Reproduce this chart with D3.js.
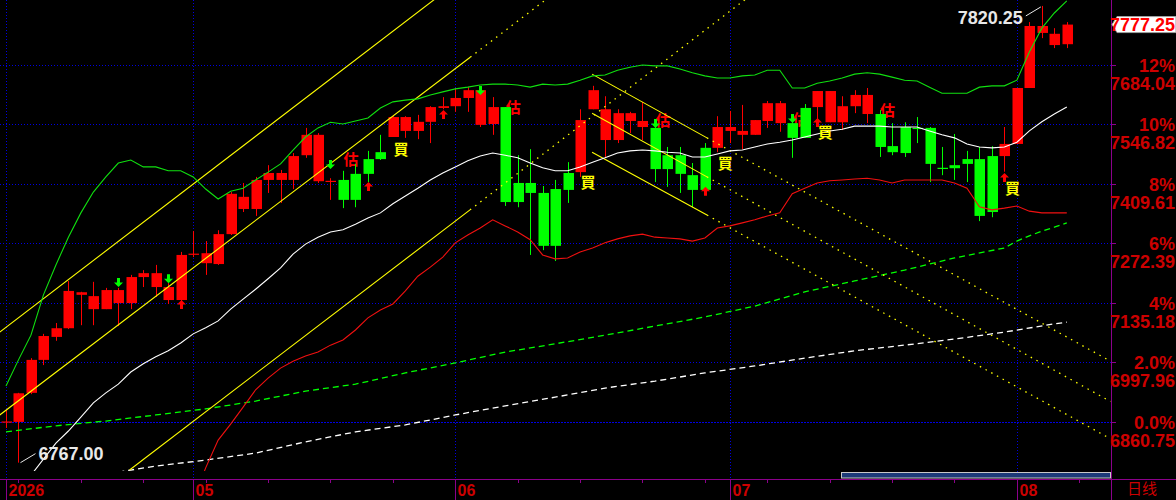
<!DOCTYPE html>
<html><head><meta charset="utf-8">
<script src="https://cdn.jsdelivr.net/npm/d3@7"></script>
<style>
html,body{margin:0;padding:0;background:#000;overflow:hidden}
svg{display:block}
</style></head><body>
<svg id="c" width="1176" height="500"></svg>
<script>
// ---------------- DATA ----------------
const base = 6860.75;
const pctTicks = [0, 2, 4, 6, 8, 10, 12];
const pctLabels = ["0.0%", "2.0%", "4%", "6%", "8%", "10%", "12%"];
const priceLabels = ["6860.75", "6997.96", "7135.18", "7272.39", "7409.61", "7546.82", "7684.04"];

const monthStarts = [0, 15, 36, 58, 81];
const monthLabels = ["2026", "05", "06", "07", "08"];
const weekTicks = [1, 6, 11, 16, 21, 26, 31, 36, 41, 46, 51, 56, 61, 66, 71, 76, 81, 86];
const periodLabel = "日线";

const open = [6861,6861,6928,7004,7057,7077,7154,7121,7121,7135,
7135,7195,7172,7142,7142,7248,7227,7225,7294,7352,
7352,7419,7419,7419,7476,7416,7416,7419,7433,7467,
7483,7518,7532,7532,7553,7585,7589,7608,7546,7548,
7587,7412,7412,7389,7398,7435,7437,7582,7511,7511,
7555,7541,7539,7476,7476,7430,7493,7493,7532,7523,
7523,7555,7550,7550,7585,7587,7552,7552,7589,7571,
7571,7497,7541,7539,7539,7447,7453,7467,7467,7474,
7474,7502,7631,7758,7730,7732];
const high = [6888,6928,7008,7064,7089,7186,7161,7184,7170,7170,
7200,7211,7223,7181,7253,7301,7278,7303,7391,7412,
7426,7453,7442,7481,7539,7527,7423,7440,7456,7486,
7523,7566,7566,7569,7589,7610,7631,7633,7631,7610,
7587,7476,7490,7405,7419,7460,7582,7636,7612,7582,
7576,7599,7555,7495,7495,7458,7504,7566,7578,7592,
7557,7601,7601,7569,7594,7624,7624,7612,7626,7631,
7580,7550,7552,7564,7541,7495,7525,7486,7495,7497,
7541,7631,7783,7820.25,7769,7783];
const low = [6847,6767,6925,6992,7048,7075,7084,7084,7121,7082,
7121,7172,7149,7133,7137,7241,7200,7223,7292,7345,
7336,7389,7366,7398,7470,7412,7373,7354,7356,7414,
7465,7518,7516,7513,7504,7582,7576,7576,7541,7523,
7359,7356,7246,7257,7232,7366,7426,7582,7472,7504,
7527,7511,7414,7403,7389,7356,7396,7483,7504,7490,
7523,7539,7530,7470,7516,7541,7552,7534,7573,7550,
7472,7476,7472,7504,7414,7430,7419,7414,7324,7333,
7438,7502,7631,7746,7723,7723];
const close = [6862,6927,7004,7059,7077,7163,7160,7151,7165,7165,
7195,7204,7204,7172,7246,7249,7250,7294,7387,7380,
7419,7435,7435,7474,7523,7523,7417,7373,7373,7433,
7467,7564,7564,7553,7587,7589,7608,7626,7626,7587,
7368,7368,7389,7267,7267,7396,7557,7626,7582,7573,
7573,7555,7444,7444,7433,7396,7396,7541,7541,7532,
7557,7596,7596,7516,7516,7624,7624,7589,7615,7615,
7495,7483,7481,7538,7456,7446,7446,7456,7336,7345,
7502,7631,7774,7774,7756,7777.25];

// Bollinger-style bands (read per bar)
const bandUpper = [6944,7004,7061,7154,7223,7287,7343,7391,7426,7458,
7465,7449,7449,7440,7440,7426,7398,7375,7393,7400,
7419,7437,7456,7488,7518,7539,7552,7548,7555,7562,
7585,7599,7603,7606,7615,7622,7629,7633,7638,7640,
7640,7638,7633,7640,7638,7640,7649,7659,7661,7672,
7679,7684,7682,7682,7675,7666,7659,7654,7654,7659,
7661,7672,7672,7631,7631,7642,7647,7654,7663,7666,
7663,7656,7649,7647,7633,7619,7619,7619,7633,7636,
7636,7649,7714,7769,7804,7832];
const bandMid = [null,null,6738,6775,6812,6840,6872,6905,6928,6948,
6976,6995,7011,7025,7043,7064,7078,7094,7121,7144,
7167,7191,7216,7248,7271,7287,7299,7304,7317,7331,
7343,7364,7382,7400,7419,7435,7449,7463,7474,7481,
7476,7470,7458,7447,7440,7440,7449,7460,7470,7481,
7486,7488,7486,7483,7481,7472,7472,7479,7486,7488,
7495,7502,7506,7511,7518,7525,7532,7536,7543,7543,
7543,7541,7541,7541,7532,7523,7516,7502,7495,7493,
7495,7506,7532,7553,7571,7587];
const bandLower = [null,null,null,null,null,null,null,null,null,null,
null,null,null,null,null,6681,6755,6819,6856,6895,
6935,6962,6985,7001,7013,7022,7038,7050,7073,7101,
7119,7133,7163,7197,7218,7241,7274,7292,7308,7327,
7313,7299,7281,7246,7237,7239,7253,7262,7274,7283,
7290,7294,7287,7285,7283,7278,7285,7308,7313,7320,
7327,7336,7343,7387,7400,7412,7417,7419,7421,7423,
7419,7412,7419,7419,7419,7419,7412,7400,7357,7350,
7354,7359,7347,7343,7343,7343];

// long moving averages (bar index, value)
const maGreen = [[0,6838],[4,6852],[8,6863],[12,6877],[16,6891],[20,6909],[24,6932],[28,6948],
[32,6974],[36,6997],[40,7022],[44,7041],[48,7061],[52,7082],[56,7103],[60,7128],[64,7161],
[68,7186],[72,7211],[76,7239],[80,7262],[81,7278],[82,7290],[83,7301],[84,7310],[85,7320]];
const maWhite = [[9,6745],[10,6750],[12,6759],[16,6773],[20,6789],[24,6815],[28,6838],[32,6854],
[36,6877],[40,6898],[44,6918],[48,6939],[52,6955],[56,6974],[60,6990],[64,7008],[68,7025],
[72,7038],[76,7052],[80,7068],[84,7087],[85,7091]];

// drawn trend lines (bar index, price)
const trendSolid = [
  [[-0.5,7068],[35,7850]],
  [[-0.5,6877],[37.2,7702]],
  [[9.9,6750],[37.18,7350]],
  [[46.96,7663],[56.17,7516]],
  [[46.96,7573],[56.17,7426]],
  [[46.96,7483],[56.17,7338]]
];
const trendDotted = [
  [[37.2,7702],[44,7851]],
  [[37.18,7350],[60,7852]],
  [[56.17,7516],[88.5,7001]],
  [[56.17,7426],[88.5,6908]],
  [[56.17,7338],[88.5,6822]]
];

// signals
const upArrows = [[14,7142],[29,7414],[35,7580],[56,7403],[65,7562],[80,7435]];
const downArrows = [[9,7172],[13,7181],[26,7444],[38,7615],[52,7539],[63,7550]];
const buyLabels = [[31,7488],[46,7412],[57,7456],[65,7527],[80,7398]];
const estLabels = [[27,7465],[40,7585],[52,7555],[63,7557],[70,7578]];

// ---------------- DRAW ----------------
const W = 1176, H = 500;
const plotRight = 1111, axisY = 479;
const RED = "#ff0000", GREEN = "#00ff00", AXT = "#cc0000", BLUE = "#0000e0", PURPLE = "#8b008b";
const NUM = "'Liberation Sans', Arial, sans-serif";
const CJK = "'Noto Sans CJK TC', 'Noto Sans CJK SC', sans-serif";

const svg = d3.select("#c");
svg.append("rect").attr("width", W).attr("height", H).attr("fill", "#000");

const x = d3.scaleLinear().domain([0, 85]).range([6, 1066.8]);
const y = d3.scaleLinear().domain([base, 7684.04]).range([422, 65]);
const px = v => Math.round(x(v)) + 0.5;

svg.append("defs").append("clipPath").attr("id", "plot")
  .append("rect").attr("x", 0).attr("y", 0).attr("width", plotRight).attr("height", 471);

// grid
const grid = svg.append("g");
pctTicks.forEach(p => {
  const yy = Math.round(y(base * (1 + p / 100))) + 0.5;
  grid.append("line").attr("x1", 0).attr("x2", plotRight + 4).attr("y1", yy).attr("y2", yy)
    .attr("stroke", BLUE).attr("stroke-width", 1)
    .attr("stroke-dasharray", p === 0 ? "2,1" : "1,2");
});
monthStarts.forEach(i => {
  grid.append("line").attr("x1", px(i)).attr("x2", px(i)).attr("y1", 0).attr("y2", axisY)
    .attr("stroke", BLUE).attr("stroke-width", 1).attr("stroke-dasharray", "1,2");
});

// candles
const bars = d3.range(open.length).map(i => ({i, o: open[i], h: high[i], l: low[i], c: close[i]}));

// estimate labels drawn beneath candles
const est = svg.append("g");
estLabels.forEach(([i, p]) => {
  est.append("text").attr("x", x(i) + 0.5).attr("y", y(p)).attr("dy", "0.36em")
    .attr("fill", RED).attr("font-family", CJK).attr("font-size", 15).attr("font-weight", 700)
    .text("估");
});

const cg = svg.append("g");
bars.forEach(d => {
  const col = d.c >= d.o ? RED : GREEN;
  const cx = Math.round(x(d.i));
  cg.append("line").attr("x1", cx + 0.5).attr("x2", cx + 0.5)
    .attr("y1", y(d.h)).attr("y2", y(d.l)).attr("stroke", col).attr("stroke-width", 1);
  const top = y(Math.max(d.o, d.c)), bot = y(Math.min(d.o, d.c));
  cg.append("rect").attr("x", cx - 4.5).attr("width", 10.5)
    .attr("y", top).attr("height", Math.max(1.2, bot - top)).attr("fill", col);
});

// lines
const lineGen = d3.line().defined(d => d[1] != null).x(d => x(d[0])).y(d => y(d[1]));
const lg = svg.append("g").attr("clip-path", "url(#plot)");
const toPairs = arr => arr.map((v, i) => [i, v]);
lg.append("path").attr("d", lineGen(maWhite)).attr("fill", "none").attr("stroke", "#ffffff")
  .attr("stroke-width", 1.3).attr("stroke-dasharray", "6,4");
lg.append("path").attr("d", lineGen(maGreen)).attr("fill", "none").attr("stroke", GREEN)
  .attr("stroke-width", 1.3).attr("stroke-dasharray", "6,4");
trendSolid.forEach(seg => lg.append("path").attr("d", lineGen(seg)).attr("fill", "none")
  .attr("stroke", "#ffff00").attr("stroke-width", 1.1));
trendDotted.forEach(seg => lg.append("path").attr("d", lineGen(seg)).attr("fill", "none")
  .attr("stroke", "#ffff00").attr("stroke-width", 1.3).attr("stroke-dasharray", "1.5,5"));
lg.append("path").attr("d", lineGen(toPairs(bandLower))).attr("fill", "none").attr("stroke", "#f01010").attr("stroke-width", 1.1);
lg.append("path").attr("d", lineGen(toPairs(bandMid))).attr("fill", "none").attr("stroke", "#ffffff").attr("stroke-width", 1.1);
lg.append("path").attr("d", lineGen(toPairs(bandUpper))).attr("fill", "none").attr("stroke", "#10e010").attr("stroke-width", 1.1);

// signal markers
const mg = svg.append("g");
upArrows.forEach(([i, p]) => {
  const cx = Math.round(x(i)) + 0.5, t = y(p);
  mg.append("path").attr("fill", RED)
    .attr("d", `M${cx},${t}L${cx+4.5},${t+4.5}L${cx+1.5},${t+4.5}L${cx+1.5},${t+9}L${cx-1.5},${t+9}L${cx-1.5},${t+4.5}L${cx-4.5},${t+4.5}Z`);
});
downArrows.forEach(([i, p]) => {
  const cx = Math.round(x(i)) + 0.5, t = y(p);
  mg.append("path").attr("fill", GREEN)
    .attr("d", `M${cx},${t}L${cx+4.5},${t-4.5}L${cx+1.5},${t-4.5}L${cx+1.5},${t-9}L${cx-1.5},${t-9}L${cx-1.5},${t-4.5}L${cx-4.5},${t-4.5}Z`);
});
buyLabels.forEach(([i, p]) => {
  mg.append("text").attr("x", x(i) + 0.5).attr("y", y(p)).attr("dy", "0.36em")
    .attr("fill", "#ffff00").attr("font-family", CJK).attr("font-size", 15).attr("font-weight", 700)
    .text("買");
});

// extreme value labels
const iMin = d3.minIndex(low), iMax = d3.maxIndex(high);
{
  const cx = x(iMin), yl = y(low[iMin]);
  mg.append("line").attr("x1", cx + 2).attr("y1", yl).attr("x2", cx + 17).attr("y2", yl - 9)
    .attr("stroke", "#e8e8e8").attr("stroke-width", 1);
  mg.append("text").attr("x", cx + 20).attr("y", yl - 3).attr("fill", "#e8e8e8")
    .attr("font-family", NUM).attr("font-weight", 700).attr("font-size", 18).text(low[iMin].toFixed(2));
}
{
  const cx = x(iMax), yh = y(high[iMax]);
  mg.append("line").attr("x1", cx - 1).attr("y1", yh + 1).attr("x2", cx - 16).attr("y2", yh + 10)
    .attr("stroke", "#e8e8e8").attr("stroke-width", 1);
  mg.append("text").attr("x", cx - 19).attr("y", yh + 18).attr("text-anchor", "end").attr("fill", "#e8e8e8")
    .attr("font-family", NUM).attr("font-weight", 700).attr("font-size", 18).text(high[iMax].toFixed(2));
}

// scrollbar
svg.append("rect").attr("x", 841.5).attr("y", 472.5).attr("width", 269).attr("height", 5.5)
  .attr("fill", "#1c3a78").attr("stroke", "#c8c8c8").attr("stroke-width", 1);

// axes
const ax = svg.append("g");
ax.append("line").attr("x1", 0).attr("x2", W).attr("y1", axisY + 0.5).attr("y2", axisY + 0.5)
  .attr("stroke", PURPLE).attr("stroke-width", 1);
ax.append("line").attr("x1", plotRight + 0.5).attr("x2", plotRight + 0.5).attr("y1", 0).attr("y2", H)
  .attr("stroke", PURPLE).attr("stroke-width", 1);
weekTicks.forEach(i => ax.append("line").attr("x1", px(i)).attr("x2", px(i))
  .attr("y1", axisY).attr("y2", axisY + 4).attr("stroke", PURPLE));
monthStarts.forEach((i, k) => {
  ax.append("line").attr("x1", px(i)).attr("x2", px(i)).attr("y1", axisY).attr("y2", H).attr("stroke", PURPLE);
  ax.append("text").attr("x", px(i) + 2).attr("y", 496).attr("fill", AXT)
    .attr("font-family", NUM).attr("font-weight", 700).attr("font-size", 16).text(monthLabels[k]);
});
ax.append("text").attr("x", 1127).attr("y", 494).attr("fill", AXT)
  .attr("font-family", CJK).attr("font-size", 15).text(periodLabel);

pctTicks.forEach((p, k) => {
  const yy = y(base * (1 + p / 100));
  ax.append("line").attr("x1", plotRight).attr("x2", plotRight + 5).attr("y1", Math.round(yy) + 0.5)
    .attr("y2", Math.round(yy) + 0.5).attr("stroke", PURPLE);
  ax.append("text").attr("x", 1175).attr("y", yy + 6.5).attr("text-anchor", "end").attr("fill", AXT)
    .attr("font-family", NUM).attr("font-weight", 700).attr("font-size", 18).text(pctLabels[k]);
  ax.append("text").attr("x", 1175).attr("y", yy + 24.5).attr("text-anchor", "end").attr("fill", AXT)
    .attr("font-family", NUM).attr("font-weight", 700).attr("font-size", 18).text(priceLabels[k]);
});

// last price tag
{
  const last = close[close.length - 1], yc = y(last);
  svg.append("path").attr("d", `M${plotRight + 1},${yc}L${plotRight + 6},${yc - 8}L1176,${yc - 8}L1176,${yc + 8}L${plotRight + 6},${yc + 8}Z`)
    .attr("fill", "#ffffff").attr("stroke", "#a0a0a0").attr("stroke-width", 1);
  svg.append("text").attr("x", 1175).attr("y", yc + 6).attr("text-anchor", "end").attr("fill", RED)
    .attr("font-family", NUM).attr("font-weight", 700).attr("font-size", 18).text(last.toFixed(2));
}
</script>
</body></html>
